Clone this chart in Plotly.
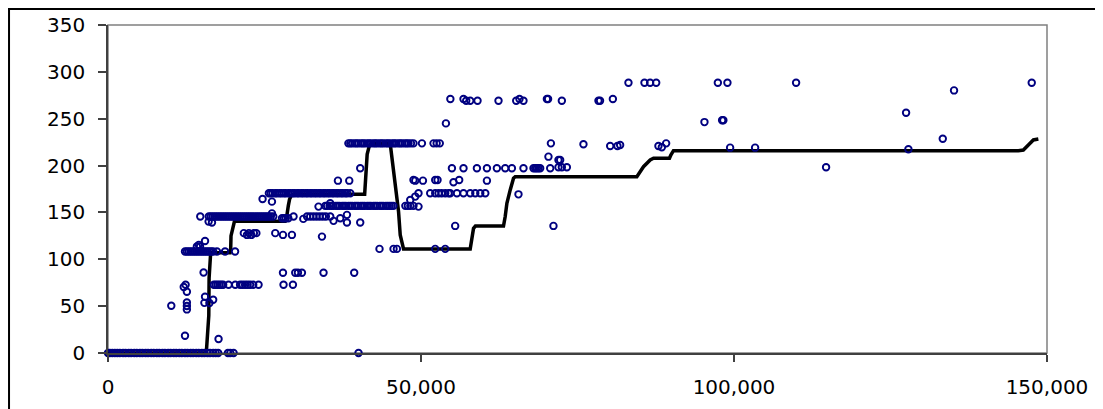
import plotly.graph_objects as go

# ---------------- data ----------------
# black trend line
trend_x = [0, 15700, 15800, 16000, 16100, 16150, 16300, 16400, 19500, 19600, 19650, 19800, 20000, 20200,
           28300, 28600, 28800, 29000, 29300, 29700, 41000, 41100, 41300, 41400, 41700, 42000,
           45080, 45350, 45880, 46410, 46680, 47210, 57860, 58390, 58700, 63180, 63450, 63720, 64250,
           64780, 65050, 84480, 85540, 86610, 87140, 89690, 89910, 90330, 145420, 146220, 147020,
           147820, 148620]
trend_y = [0, 0, 10, 25, 40, 80, 100, 107, 107, 112, 125, 130, 138, 140.5,
           140.5, 148, 157, 164, 168, 169.5, 169.5, 180, 200, 212, 220, 223.5,
           223.5, 207.8, 179, 151, 126, 111, 111, 133, 135.5, 135.5, 145.6, 159.8, 174,
           186.5, 188.2, 188.2, 198.8, 206, 207.8, 207.8, 211.3, 215.9, 215.9, 216.6, 222,
           227.3, 228.3]

# observed points, grouped by band
zero_pts = [(0, 0), (300, 0), (700, 0), (1100, 0), (1500, 0), (1900, 0), (2400, 0), (2800, 0),
            (3300, 0), (3700, 0), (4200, 0), (4600, 0), (5100, 0), (5500, 0), (6000, 0), (6400, 0),
            (6900, 0), (7300, 0), (7800, 0), (8200, 0), (8700, 0), (9100, 0), (9600, 0), (10000, 0),
            (10500, 0), (10900, 0), (11400, 0), (11800, 0), (12300, 0), (12700, 0), (13200, 0),
            (13600, 0), (14100, 0), (14500, 0), (15000, 0), (15400, 0), (15900, 0), (16300, 0),
            (16800, 0), (17200, 0), (17600, 0), (19160, 0), (19530, 0), (20060, 0), (40020, 0)]

low_pts = [(10110, 50.4), (12100, 70.5), (12400, 72.8), (12600, 65.3), (12600, 53.9), (12600, 50.2),
           (12600, 46.5), (12300, 18.4), (17660, 14.9), (15270, 85.9), (15500, 60), (15400, 53.5),
           (16200, 53.3), (16800, 56.8)]

row73_pts = [(16900, 72.8), (17200, 72.8), (17500, 72.8), (17800, 72.8), (18100, 72.8), (18400, 72.8),
             (19260, 72.8), (20330, 72.8), (21100, 72.8), (21500, 72.8), (21900, 72.8), (22300, 72.8),
             (22700, 72.8), (23200, 72.8), (24050, 72.8), (28040, 72.8), (29540, 72.8)]

row86_pts = [(27950, 85.6), (29910, 85.6), (30340, 85.6), (30980, 85.6), (34430, 85.6), (39330, 85.6)]

row108_pts = [(12300, 108.3), (12600, 108.3), (12900, 108.3), (13200, 108.3), (13500, 108.3),
              (13800, 108.3), (14100, 108.3), (14400, 108.3), (14700, 108.3), (15000, 108.3),
              (15300, 108.3), (15600, 108.3), (15900, 108.3), (16200, 108.3), (16500, 108.3),
              (16800, 108.3), (17400, 108.3), (18700, 108.3), (20300, 108.3),
              (14200, 113.6), (14500, 115.4), (14700, 113.6), (15500, 119.5)]

row111_pts = [(43370, 111.1), (45610, 111.1), (46150, 111.1), (52270, 111.1), (53870, 111.1)]

row128_pts = [(21700, 127.9), (22200, 126), (22500, 127.9), (22900, 126), (23300, 127.9), (23700, 127.9),
              (26720, 127.9), (27950, 126), (29380, 126), (34180, 124.2), (55460, 135.6), (71160, 135.6)]

row145_pts = [(16070, 140.2), (16610, 139.2), (14740, 145.6),
              (16100, 145.6), (16400, 145.6), (16700, 145.6), (17000, 145.6), (17300, 145.6),
              (17600, 145.6), (17900, 145.6), (18200, 145.6), (18500, 145.6), (18800, 145.6),
              (19100, 145.6), (19400, 145.6), (19700, 145.6), (20000, 145.6), (20300, 145.6),
              (20600, 145.6), (20900, 145.6), (21200, 145.6), (21500, 145.6), (21800, 145.6),
              (22100, 145.6), (22400, 145.6), (22700, 145.6), (23000, 145.6), (23300, 145.6),
              (23600, 145.6), (23900, 145.6), (24200, 145.6), (24500, 145.6), (24800, 145.6),
              (25100, 145.6), (25400, 145.6), (25700, 145.6), (26000, 145.6), (26400, 145.6),
              (26190, 149), (27800, 143.8), (28100, 143.8), (28400, 143.8), (28800, 143.8),
              (29640, 145.6), (31200, 143.1), (31800, 145.6), (32300, 145.6), (32800, 145.6),
              (33300, 145.6), (33800, 145.6), (34300, 145.6), (34800, 145.6), (35500, 145.6),
              (36030, 141), (37100, 143.8), (38170, 147.4), (38170, 139.2), (40290, 139.2)]

row157_pts = [(34700, 157), (35000, 157), (35400, 157), (35700, 157), (36000, 157), (36400, 157),
              (36700, 157), (37000, 157), (37400, 157), (37700, 157), (38000, 157), (38400, 157),
              (38700, 157), (39000, 157), (39400, 157), (39700, 157), (40000, 157), (40400, 157),
              (40700, 157), (41000, 157), (41400, 157), (41700, 157), (42000, 157), (42400, 157),
              (42700, 157), (43000, 157), (43400, 157), (43700, 157), (44000, 157), (44400, 157),
              (44700, 157), (45000, 157), (45300, 157), (45600, 157),
              (35500, 159.8), (33630, 156.2), (47500, 157), (47900, 157), (48300, 157), (48800, 157),
              (49600, 156.2), (48280, 163.3), (49080, 166.9), (24690, 164.4), (26190, 161.5)]

row170_pts = [(25700, 170.5), (26000, 170.5), (26300, 170.5), (26700, 170.5), (27000, 170.5),
              (27400, 170.5), (27700, 170.5), (28100, 170.5), (28400, 170.5), (28800, 170.5),
              (29100, 170.5), (29500, 170.5), (29800, 170.5), (30200, 170.5), (30500, 170.5),
              (30900, 170.5), (31200, 170.5), (31600, 170.5), (31900, 170.5), (32300, 170.5),
              (32600, 170.5), (33000, 170.5), (33300, 170.5), (33700, 170.5), (34000, 170.5),
              (34400, 170.5), (34700, 170.5), (35100, 170.5), (35400, 170.5), (35800, 170.5),
              (36100, 170.5), (36500, 170.5), (36800, 170.5), (37200, 170.5), (37500, 170.5),
              (37900, 170.5), (38200, 170.5), (38700, 170.5),
              (49600, 170.5), (51470, 170.5), (52270, 170.5), (52800, 170.5), (53300, 170.5),
              (53870, 170.5), (54400, 170.5), (54670, 170.5), (55740, 170.5), (56790, 170.5),
              (57870, 170.5), (58670, 170.5), (59470, 170.5), (60270, 170.5), (65570, 169.3)]

row184_pts = [(36730, 183.9), (38540, 183.9), (48800, 184.6), (49080, 183.9), (50310, 183.9),
              (52270, 184.6), (52640, 184.6), (55190, 182.2), (56100, 184.6), (60530, 183.9)]

row197_pts = [(40290, 197.1), (54940, 197.1), (56790, 197.1), (58930, 197.1), (60530, 197.1),
              (62120, 197.1), (63450, 197.1), (64520, 197.1), (66370, 197.1), (67970, 197.1),
              (68240, 197.1), (68510, 197.1), (68770, 197.1), (69040, 197.1), (70640, 197.1),
              (71960, 198.2), (72500, 198.2), (73300, 198.2), (114710, 198.2),
              (70360, 209.5), (71960, 206), (72230, 206)]

row224_pts = [(38400, 223.7), (38700, 223.7), (39000, 223.7), (39400, 223.7), (39700, 223.7),
              (40000, 223.7), (40400, 223.7), (40700, 223.7), (41000, 223.7), (41400, 223.7),
              (41700, 223.7), (42000, 223.7), (42400, 223.7), (42700, 223.7), (43000, 223.7),
              (43400, 223.7), (43700, 223.7), (44000, 223.7), (44400, 223.7), (44700, 223.7),
              (45000, 223.7), (45400, 223.7), (45700, 223.7), (46000, 223.7), (46400, 223.7),
              (46700, 223.7), (47000, 223.7), (47400, 223.7), (47700, 223.7), (48000, 223.7),
              (48400, 223.7), (48800, 223.7), (50150, 223.7), (52000, 223.7), (52500, 223.7),
              (53000, 223.7), (70750, 223.7), (75950, 222.7), (80220, 220.9), (81380, 220.9),
              (81810, 221.9), (87930, 220.9), (88470, 219.5), (89160, 223.7),
              (99380, 219.1), (103370, 219.1), (127860, 217.4), (133350, 228.7)]

high_pts = [(53980, 245), (95280, 246.4), (98100, 248.3), (98300, 248.3), (127490, 256.4),
            (54690, 271), (56790, 271), (57220, 269.2), (57860, 269.2), (59030, 269.2),
            (62380, 269.2), (65210, 269.2), (65730, 271), (66370, 269.2), (70110, 271),
            (70300, 271), (72500, 269.2), (78350, 269.2), (78600, 269.2), (80650, 271),
            (135150, 280.2), (83140, 288.3), (85700, 288.3), (86600, 288.3), (87570, 288.3),
            (97420, 288.3), (98950, 288.3), (109920, 288.3), (147560, 288.3)]

x_tickvals = [0, 50000, 100000, 150000]
x_ticktext = ["0", "50,000", "100,000", "150,000"]
y_tickvals = [0, 50, 100, 150, 200, 250, 300, 350]

# ---------------- figure ----------------
groups = [zero_pts, low_pts, row73_pts, row86_pts, row108_pts, row111_pts, row128_pts,
          row145_pts, row157_pts, row170_pts, row184_pts, row197_pts, row224_pts, high_pts]
obs_x = [p[0] for g in groups for p in g]
obs_y = [p[1] for g in groups for p in g]

fig = go.Figure()
fig.add_trace(go.Scatter(
    x=trend_x, y=trend_y, mode="lines",
    line=dict(color="black", width=3.5),
    showlegend=False, hoverinfo="skip"))
fig.add_trace(go.Scatter(
    x=obs_x, y=obs_y, mode="markers",
    marker=dict(symbol="circle-open", size=6.5, color="#000080", line=dict(width=1.9, color="#000080")),
    cliponaxis=False, showlegend=False))

tickfont = dict(family="DejaVu Sans", size=20, color="black")
axis_col = "#404040"
fig.update_xaxes(range=[0, 150000], tickvals=x_tickvals, ticktext=x_ticktext,
                 ticks="outside", ticklen=7, tickwidth=1.5, tickcolor=axis_col,
                 showline=True, linecolor=axis_col, linewidth=1.5, automargin=False,
                 showgrid=False, zeroline=False, tickfont=tickfont, ticklabelstandoff=8)
fig.update_yaxes(range=[0, 350], tickvals=y_tickvals,
                 ticks="outside", ticklen=8, tickwidth=1.5, tickcolor=axis_col,
                 showline=True, linecolor=axis_col, linewidth=1.5, automargin=False,
                 showgrid=False, zeroline=False, tickfont=tickfont, ticklabelstandoff=9)

fig.update_layout(
    width=1095, height=401,
    margin=dict(l=100, r=56, t=17, b=56),
    plot_bgcolor="white", paper_bgcolor="white",
    shapes=[
        dict(type="rect", xref="paper", yref="paper", x0=0, x1=1, y0=0, y1=1,
             line=dict(color="#808080", width=1.5), layer="below"),
        dict(type="rect", xref="paper", yref="paper", x0=-0.1054, x1=1.08, y0=-0.2, y1=1.0488,
             line=dict(color="black", width=2), layer="above"),
    ],
)

fig.write_html("out.html")
